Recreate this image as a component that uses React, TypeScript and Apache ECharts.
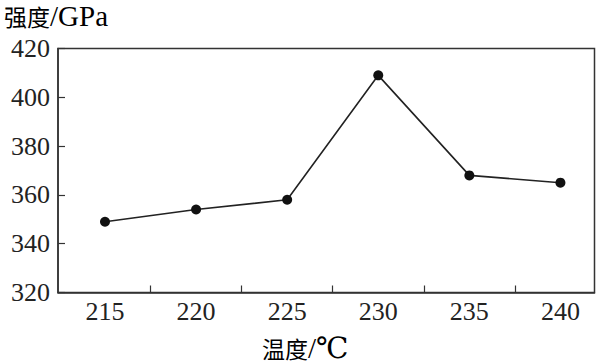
import React, { useEffect, useRef } from "react";
import * as echarts from "echarts";

const temperatures = [215, 220, 225, 230, 235, 240];
const strength = [349, 354, 358, 409, 368, 365];
const yTicks = [320, 340, 360, 380, 400, 420];
const xTickMarks = [217.5, 222.5, 227.5, 232.5, 237.5];
const yTitleCjk = "强度";
const yTitleUnit = "/GPa";
const xTitleCjk = "温度";
const xTitleUnit = "/℃";

const SERIF = "Times New Roman, Liberation Serif, DejaVu Serif, serif";
const CJK = "Noto Sans CJK SC";
const INK = "#222";

const titleRich = {
  c: { fontFamily: CJK, fontSize: 23, color: INK, lineHeight: 28 },
  l: { fontFamily: SERIF, fontSize: 29, color: INK, lineHeight: 28 },
};

export default function App() {
  const ref = useRef<HTMLDivElement>(null);
  useEffect(() => {
    if (!ref.current) return;
    const chart = echarts.init(ref.current, null, { renderer: "svg" });
    chart.setOption({
      animation: false,
      backgroundColor: "#fff",
      textStyle: { fontFamily: SERIF },
      grid: {
        left: 58,
        right: 2.5,
        top: 48.5,
        bottom: 71.5,
        show: true,
        borderColor: "#333",
        borderWidth: 1.5,
        backgroundColor: "transparent",
      },
      xAxis: {
        type: "value",
        min: 212.42,
        max: 241.87,
        splitLine: { show: false },
        axisLine: { show: true, lineStyle: { color: "#333", width: 1.5 } },
        axisTick: {
          show: true,
          inside: true,
          length: 7,
          customValues: xTickMarks,
          lineStyle: { color: "#333", width: 1.2 },
        },
        axisLabel: {
          customValues: temperatures,
          margin: 6,
          fontFamily: SERIF,
          fontSize: 26,
          color: INK,
        },
      },
      yAxis: {
        type: "value",
        min: 320,
        max: 420,
        interval: 20,
        splitLine: { show: false },
        axisLine: { show: true, lineStyle: { color: "#333", width: 1.5 } },
        axisTick: {
          show: true,
          inside: true,
          length: 7,
          lineStyle: { color: "#333", width: 1.2 },
        },
        axisLabel: {
          customValues: yTicks,
          margin: 8,
          fontFamily: SERIF,
          fontSize: 26,
          color: INK,
        },
      },
      graphic: [
        {
          type: "text",
          left: 4,
          top: 1,
          style: {
            text: "{c|" + yTitleCjk + "}{l|" + yTitleUnit + "}",
            rich: titleRich,
          },
        },
        {
          type: "text",
          left: 262,
          top: 333,
          style: {
            text: "{c|" + xTitleCjk + "}{l|" + xTitleUnit + "}",
            rich: titleRich,
          },
        },
      ],
      series: [
        {
          type: "line",
          data: temperatures.map((t, i) => [t, strength[i]]),
          symbol: "circle",
          symbolSize: 10,
          lineStyle: { color: INK, width: 1.6 },
          itemStyle: { color: "#111" },
        },
      ],
    });
    return () => chart.dispose();
  }, []);
  return (
    <div
      ref={ref}
      style={{ position: "fixed", left: 0, top: 0, width: 597, height: 364 }}
    />
  );
}
